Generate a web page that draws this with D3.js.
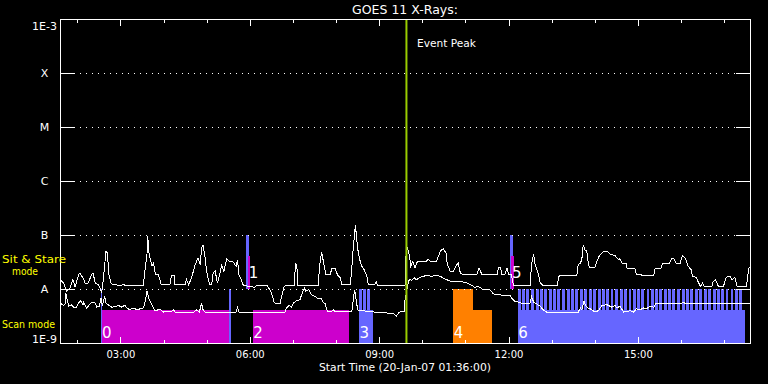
<!DOCTYPE html>
<html><head><meta charset="utf-8">
<script src="https://cdn.jsdelivr.net/npm/d3@7"></script>
<style>
body{margin:0;background:#000;}
text{font-family:"DejaVu Sans",sans-serif;fill:#fff;}
</style>
</head><body>
<svg id="chart" width="768" height="384"></svg>
<script>
// ---------- data ----------
const chartTitle = "GOES 11 X-Rays:";
const xAxisTitle = "Start Time (20-Jan-07 01:36:00)";
const timeStart = "01:36";
const timeEnd = "17:36";
const yTickValues = [1e-3, 1e-4, 1e-5, 1e-6, 1e-7, 1e-8, 1e-9];
const yTickLabels = ["1E-3", "X", "M", "C", "B", "A", "1E-9"];
const gridValues = [1e-4, 1e-5, 1e-6, 1e-7, 1e-8];
const eventPeak = "09:38";
const eventLabel = "Event Peak";
const modeLabels = ["Sit & Stare", "mode", "Scan mode"];

// GOES 11 1-8 A (upper) channel  [time, flux W/m^2]
const longChannel = [["01:36",1.49e-8],["01:41",1.29e-8],["01:45",9.2e-9],["01:50",1.04e-8],["01:54",1.49e-8],["01:57",1.10e-8],["02:02",1.84e-8],["02:04",1.98e-8],["02:06",1.74e-8],["02:08",1.60e-8],["02:11",1.29e-8],["02:15",1.29e-8],["02:20",1.84e-8],["02:22",1.98e-8],["02:25",1.29e-8],["02:29",1.20e-8],["02:32",1.04e-8],["02:34",8.4e-9],["02:36",1.39e-8],["02:40",4.99e-8],["02:42",4.64e-8],["02:44",1.84e-8],["02:47",1.29e-8],["02:50",1.20e-8],["03:02",1.17e-8],["03:04",1.24e-8],["03:06",1.17e-8],["03:32",1.17e-8],["03:34",2.13e-8],["03:37",4.32e-8],["03:38",9.46e-8],["03:40",4.32e-8],["03:44",2.63e-8],["03:46",3.03e-8],["03:49",1.84e-8],["03:53",1.84e-8],["03:57",1.20e-8],["04:09",1.20e-8],["04:11",1.79e-8],["04:15",1.79e-8],["04:16",1.20e-8],["04:30",1.20e-8],["04:32",1.49e-8],["04:35",1.20e-8],["04:39",1.60e-8],["04:44",2.82e-8],["04:48",3.75e-8],["04:51",2.82e-8],["04:53",5.74e-8],["04:55",6.44e-8],["04:58",3.75e-8],["05:00",2.13e-8],["05:04",1.20e-8],["05:07",1.20e-8],["05:09",1.98e-8],["05:12",2.13e-8],["05:15",1.29e-8],["05:18",1.84e-8],["05:21",2.75e-8],["05:24",2.13e-8],["05:28",3.64e-8],["05:32",3.26e-8],["05:37",3.16e-8],["05:41",2.63e-8],["05:43",3.49e-8],["05:45",1.84e-8],["05:49",1.39e-8],["05:51",1.17e-8],["06:07",1.07e-8],["06:10",1.17e-8],["06:24",1.17e-8],["06:28",9.7e-9],["06:31",7.8e-9],["06:34",5.7e-9],["06:37",5.3e-9],["06:42",5.3e-9],["06:45",7.8e-9],["06:48",1.12e-8],["06:51",1.17e-8],["07:02",1.17e-8],["07:03",2.13e-8],["07:04",3.03e-8],["07:06",2.28e-8],["07:07",1.17e-8],["07:35",1.17e-8],["07:38",3.26e-8],["07:40",4.84e-8],["07:42",3.49e-8],["07:46",1.84e-8],["07:52",1.84e-8],["07:54",2.38e-8],["07:59",2.38e-8],["08:02",1.84e-8],["08:06",1.6e-8],["08:08",1.20e-8],["08:20",1.20e-8],["08:22",2.45e-8],["08:24",5.74e-8],["08:27",1.53e-7],["08:30",5.74e-8],["08:33",3.49e-8],["08:36",2.63e-8],["08:39",2.28e-8],["08:43",1.72e-8],["08:45",1.20e-8],["08:54",1.20e-8],["08:56",1.35e-8],["08:58",1.17e-8],["09:36",1.17e-8],["09:38",6.61e-8],["09:42",4.32e-8],["09:44",2.63e-8],["09:47",3.26e-8],["09:50",2.45e-8],["09:53",3.16e-8],["10:06",3.26e-8],["10:08",3.64e-8],["10:11",3.26e-8],["10:20",3.26e-8],["10:25",4.99e-8],["10:29",5.57e-8],["10:33",4.64e-8],["10:35",2.82e-8],["10:39",2.13e-8],["10:43",2.13e-8],["10:48",2.82e-8],["10:50",3.03e-8],["10:53",1.98e-8],["10:57",1.84e-8],["11:16",1.84e-8],["11:19",2.45e-8],["11:23",1.84e-8],["11:44",1.84e-8],["11:46",2.45e-8],["11:49",2.45e-8],["11:51",1.84e-8],["11:55",1.84e-8],["11:58",2.45e-8],["12:00",1.84e-8],["12:04",1.84e-8],["12:07",1.17e-8],["12:30",1.17e-8],["12:32",2.82e-8],["12:35",4.45e-8],["12:37",2.82e-8],["12:42",1.84e-8],["12:44",1.29e-8],["12:48",1.17e-8],["13:08",1.17e-8],["13:10",1.72e-8],["13:13",1.79e-8],["13:35",1.79e-8],["13:37",2.82e-8],["13:40",3.03e-8],["13:42",3.49e-8],["13:44",6.61e-8],["13:46",5.35e-8],["13:49",4.99e-8],["13:51",3.03e-8],["13:53",2.45e-8],["14:00",2.45e-8],["14:03",3.26e-8],["14:06",4.04e-8],["14:12",4.99e-8],["14:19",4.84e-8],["14:22",4.32e-8],["14:28",4.21e-8],["14:31",3.75e-8],["14:34",3.49e-8],["14:35",3.64e-8],["14:38",3.03e-8],["14:44",3.03e-8],["14:45",2.38e-8],["14:56",2.38e-8],["14:58",1.84e-8],["15:22",1.76e-8],["15:24",2.38e-8],["15:32",2.45e-8],["15:35",3.03e-8],["15:44",3.03e-8],["15:47",3.64e-8],["15:50",3.64e-8],["15:53",3.03e-8],["15:59",3.03e-8],["16:02",4.21e-8],["16:06",3.75e-8],["16:10",2.63e-8],["16:14",2.28e-8],["16:16",1.72e-8],["16:21",1.65e-8],["16:24",1.35e-8],["16:27",1.12e-8],["16:30",1.29e-8],["16:32",1.12e-8],["16:43",1.12e-8],["16:45",1.39e-8],["16:48",1.49e-8],["16:52",1.12e-8],["16:59",1.12e-8],["17:03",1.65e-8],["17:08",1.72e-8],["17:11",1.49e-8],["17:15",1.65e-8],["17:18",1.12e-8],["17:31",1.12e-8],["17:34",2.28e-8],["17:35",2.52e-8]];

// GOES 11 0.5-4 A (lower) channel  [time, flux W/m^2]
const shortChannel = [["01:36",5.5e-9],["01:41",5.0e-9],["01:43",5.3e-9],["01:44",8.4e-9],["01:48",4.8e-9],["01:52",5.1e-9],["01:56",4.45e-9],["01:59",4.6e-9],["02:02",5.5e-9],["02:05",6.1e-9],["02:08",5.0e-9],["02:09",5.7e-9],["02:13",4.45e-9],["02:18",5.3e-9],["02:21",5.7e-9],["02:25",5.5e-9],["02:27",4.6e-9],["02:31",4.8e-9],["02:33",6.8e-9],["02:35",4.8e-9],["02:38",7.3e-9],["02:40",5.5e-9],["02:43",5.1e-9],["02:48",4.6e-9],["02:53",4.7e-9],["02:57",5.0e-9],["03:02",4.6e-9],["03:06",5.0e-9],["03:09",4.45e-9],["03:13",4.14e-9],["03:18",4.45e-9],["03:23",4.14e-9],["03:32",4.45e-9],["03:35",6.3e-9],["03:37",9.3e-9],["03:40",6.3e-9],["03:44",5.1e-9],["03:48",3.96e-9],["03:55",4.2e-9],["04:00",3.75e-9],["04:11",3.86e-9],["04:14",4.14e-9],["04:16",3.75e-9],["04:42",3.75e-9],["04:46",4.08e-9],["04:50",3.75e-9],["04:53",5.5e-9],["04:55",4.14e-9],["04:58",3.75e-9],["05:41",3.75e-9],["05:43",4.6e-9],["05:45",3.75e-9],["06:07",3.75e-9],["06:10",3.6e-9],["06:49",3.75e-9],["06:51",4.45e-9],["06:55",5.0e-9],["06:58",4.6e-9],["07:01",5.5e-9],["07:03",5.7e-9],["07:05",6.1e-9],["07:10",6.3e-9],["07:12",7.8e-9],["07:16",1.04e-8],["07:18",9.1e-9],["07:22",9.7e-9],["07:26",7.8e-9],["07:31",7.3e-9],["07:35",6.6e-9],["07:39",6.8e-9],["07:42",5.7e-9],["07:45",5.3e-9],["07:48",3.86e-9],["07:54",3.86e-9],["07:56",4.14e-9],["07:59",3.75e-9],["08:22",3.86e-9],["08:24",6.3e-9],["08:26",9.7e-9],["08:29",5.1e-9],["08:31",3.96e-9],["08:52",3.86e-9],["08:54",3.6e-9],["09:11",3.6e-9],["09:15",3.44e-9],["09:20",3.55e-9],["09:24",3.12e-9],["09:27",3.6e-9],["09:31",3.86e-9],["09:35",3.86e-9],["09:36",6.3e-9],["09:41",1.39e-8],["09:43",1.55e-8],["09:45",1.43e-8],["09:49",1.60e-8],["09:52",1.49e-8],["09:57",1.65e-8],["10:02",1.72e-8],["10:06",1.79e-8],["10:13",1.72e-8],["10:20",1.79e-8],["10:25",1.72e-8],["10:29",1.60e-8],["10:34",1.49e-8],["10:39",1.39e-8],["10:53",1.39e-8],["11:02",1.29e-8],["11:09",1.17e-8],["11:13",1.07e-8],["11:18",1.12e-8],["11:20",1.07e-8],["11:25",9.7e-9],["11:34",9.7e-9],["11:39",8.1e-9],["11:44",7.8e-9],["12:02",7.6e-9],["12:04",6.8e-9],["12:09",5.9e-9],["12:14",5.7e-9],["12:18",5.5e-9],["12:30",5.5e-9],["12:32",7.3e-9],["12:35",5.7e-9],["12:39",5.3e-9],["12:44",4.8e-9],["12:48",4.14e-9],["12:53",3.75e-9],["13:37",3.75e-9],["13:40",4.45e-9],["13:42",4.14e-9],["13:45",5.9e-9],["13:48",4.8e-9],["13:51",4.45e-9],["13:56",4.14e-9],["14:00",3.75e-9],["14:05",3.96e-9],["14:10",5.0e-9],["14:17",5.1e-9],["14:24",4.6e-9],["14:28",5.0e-9],["14:31",4.45e-9],["14:35",4.8e-9],["14:40",3.75e-9],["14:45",3.86e-9],["14:49",3.96e-9],["14:54",3.75e-9],["14:58",4.3e-9],["15:03",4.14e-9],["15:08",4.45e-9],["15:12",4.3e-9],["15:17",4.8e-9],["15:22",4.6e-9],["15:25",5.3e-9],["15:28",5.4e-9],["16:01",5.4e-9],["16:03",5.7e-9],["16:06",5.4e-9],["17:36",5.4e-9]];

// observing blocks: [start, end, study type, level]
const scanBlocks = [
  ["02:33:50","05:32","A","part"],
  ["06:04","08:18","A","part"],
  ["08:32","08:52","B","part"],
  ["10:43","11:10","C","full"],
  ["11:10","11:37","C","part"],
  ["12:13","17:29","B","part"]
];
// individual scan exposures (full height): [start, end, study type]
const scanExposures = [
  ["02:32:30","02:33:50","B"],["05:31","05:33:30","B"],
  ["08:32","08:36","B"],["08:37:30","08:41:30","B"],["08:43:30","08:47:30","B"]
];
const rasterStarts = ["12:13","12:19","12:25","12:31","12:38","12:44","12:50","12:56","13:02","13:08","13:15","13:21","13:27","13:33","13:39","13:45","13:52","13:58","14:04","14:10","14:16","14:22","14:28","14:35","14:41","14:47","14:53","14:59","15:05","15:12","15:18","15:24","15:30","15:36","15:42","15:48","15:55","16:01","16:07","16:13","16:19","16:25","16:32","16:38","16:44","16:50","16:56","17:02","17:09","17:15","17:21"];
const rasterMinutes = 4;
const stareBlocks = [
  ["05:55","05:59","B","full"],
  ["05:58","06:00","A","part"],
  ["12:02","12:06","B","full"],
  ["12:04","12:07","A","part"]
];
// study labels: [text, time, mode]
const studyLabels = [["0","02:33:50","scan"],["1","05:58","stare"],["2","06:04","scan"],["3","08:32","scan"],["4","10:43","scan"],["5","12:04","stare"],["6","12:13","scan"]];

// ---------- helpers ----------
function T(s){ const p=s.split(":").map(Number); return new Date(Date.UTC(2007,0,20,p[0],p[1],p[2]||0)); }

const svg = d3.select("#chart");
const L=60, R=750, TOP=19, BOT=343;
const x = d3.scaleUtc().domain([T(timeStart),T(timeEnd)]).range([L,R]);
const y = d3.scaleLog().domain([1e-9,1e-3]).range([BOT,TOP]);
const studyColor = d3.scaleOrdinal().domain(["A","B","C"]).range(["#cc00cc","#6666ff","#ff8000"]);
const partFrac = 0.61;
const bands = {
  scan: [1e-9, 1e-8],
  stare: [1e-8, 1e-7]
};
function bandTop(mode, level){
  const [lo,hi] = bands[mode];
  const yl = y(lo), yh = y(hi);
  return level==="full" ? yh : yl - (yl-yh)*partFrac;
}

const gBars = svg.append("g").attr("shape-rendering","crispEdges");
function drawBlock(d, mode){
  const x0 = x(T(d[0])), x1 = x(T(d[1]));
  const yt = bandTop(mode, d[3]);
  gBars.append("rect").attr("x",x0).attr("width",Math.max(1,x1-x0))
    .attr("y",yt).attr("height",y(bands[mode][0])-yt).attr("fill",studyColor(d[2]));
}
scanBlocks.forEach(d=>drawBlock(d,"scan"));
scanExposures.forEach(d=>drawBlock([d[0],d[1],d[2],"full"],"scan"));
rasterStarts.forEach(s=>{
  const e = new Date(T(s).getTime()+rasterMinutes*60000);
  const x0=x(T(s)), x1=x(e);
  gBars.append("rect").attr("x",x0).attr("width",x1-x0)
    .attr("y",y(1e-8)).attr("height",y(1e-9)-y(1e-8)).attr("fill",studyColor("B"));
});
stareBlocks.forEach(d=>drawBlock(d,"stare"));

// study labels
svg.append("g").selectAll("text").data(studyLabels).join("text")
  .attr("x",d=>x(T(d[1]))+0.5)
  .attr("y",d=>d[2]==="scan"?338:277.5)
  .attr("font-family","Liberation Sans, Arimo, sans-serif")
  .attr("font-size",15)
  .text(d=>d[0]);

// grid lines (dotted) with solid ticks at both ends
const tickLen = 14;
const gGrid = svg.append("g").attr("shape-rendering","crispEdges");
gGrid.selectAll("line").data(gridValues).join("line")
  .attr("x1",L+tickLen).attr("x2",R-tickLen)
  .attr("y1",d=>Math.round(y(d))+0.5).attr("y2",d=>Math.round(y(d))+0.5)
  .attr("stroke","#fff").attr("stroke-dasharray","1,5");

// left axis
const yAxisL = d3.axisLeft(y).tickValues(yTickValues)
  .tickFormat((d,i)=>yTickLabels[i]).tickSizeInner(-tickLen).tickSizeOuter(0).tickPadding(0);
const gL = svg.append("g").attr("transform",`translate(${L},0)`).call(yAxisL);
gL.select(".domain").remove();
gL.selectAll("line").attr("stroke","#fff").attr("shape-rendering","crispEdges");
gL.selectAll("text").attr("fill","#fff").attr("font-size",11).attr("font-family","DejaVu Sans")
  .attr("text-anchor","middle").attr("x",-15.5)
  .attr("dy",(d,i)=> i===0 ? "0.95em" : (i===yTickValues.length-1 ? "-0.05em" : "0.36em"));
// right axis ticks
const yAxisR = d3.axisRight(y).tickValues(yTickValues).tickFormat("").tickSizeInner(-tickLen).tickSizeOuter(0);
const gR = svg.append("g").attr("transform",`translate(${R},0)`).call(yAxisR);
gR.select(".domain").remove();
gR.selectAll("line").attr("stroke","#fff").attr("shape-rendering","crispEdges");

// x axes
const majorTicks = d3.utcHour.every(3);
const minorTicks = d3.utcHour.every(1);
const xb = d3.axisBottom(x).ticks(majorTicks).tickFormat(d3.utcFormat("%H:%M")).tickSizeInner(-6.5).tickSizeOuter(0).tickPadding(8);
const gXB = svg.append("g").attr("transform",`translate(0,${BOT})`).call(xb);
gXB.select(".domain").remove();
gXB.selectAll("line").attr("stroke","#fff").attr("shape-rendering","crispEdges");
gXB.selectAll("text").attr("fill","#fff").attr("font-size",10).attr("font-family","DejaVu Sans");
const xbm = d3.axisBottom(x).ticks(minorTicks).tickFormat("").tickSizeInner(-3.5).tickSizeOuter(0);
const gXBm = svg.append("g").attr("transform",`translate(0,${BOT})`).call(xbm);
gXBm.select(".domain").remove();
gXBm.selectAll("line").attr("stroke","#fff").attr("shape-rendering","crispEdges");
const xt = d3.axisTop(x).ticks(majorTicks).tickFormat("").tickSizeInner(-6.5).tickSizeOuter(0);
const gXT = svg.append("g").attr("transform",`translate(0,${TOP})`).call(xt);
gXT.select(".domain").remove();
gXT.selectAll("line").attr("stroke","#fff").attr("shape-rendering","crispEdges");
const xtm = d3.axisTop(x).ticks(minorTicks).tickFormat("").tickSizeInner(-3.5).tickSizeOuter(0);
const gXTm = svg.append("g").attr("transform",`translate(0,${TOP})`).call(xtm);
gXTm.select(".domain").remove();
gXTm.selectAll("line").attr("stroke","#fff").attr("shape-rendering","crispEdges");

// flux curves
const line = d3.line().x(d=>x(T(d[0]))).y(d=>y(d[1]));
const gLines = svg.append("g").attr("shape-rendering","crispEdges");
[longChannel, shortChannel].forEach(s=>{
  gLines.append("path").attr("d",line(s)).attr("fill","none").attr("stroke","#fff").attr("stroke-width",1);
});

// event peak line
svg.append("line").attr("x1",x(T(eventPeak))).attr("x2",x(T(eventPeak)))
  .attr("y1",TOP).attr("y2",BOT).attr("stroke","#99cc00").attr("stroke-width",2);
svg.append("text").attr("x",x(T(eventPeak))+10.5).attr("y",47).attr("font-size",11)
  .attr("textLength",59).attr("lengthAdjust","spacingAndGlyphs").text(eventLabel);

// plot frame
svg.append("rect").attr("x",L+0.5).attr("y",TOP+0.5).attr("width",R-L).attr("height",BOT-TOP)
  .attr("fill","none").attr("stroke","#fff").attr("shape-rendering","crispEdges");

// titles
svg.append("text").attr("x",(L+R)/2).attr("y",14).attr("text-anchor","middle").attr("font-size",12)
  .attr("textLength",106).attr("lengthAdjust","spacingAndGlyphs").text(chartTitle);
svg.append("text").attr("x",(L+R)/2).attr("y",371).attr("text-anchor","middle").attr("font-size",10)
  .attr("textLength",172).attr("lengthAdjust","spacingAndGlyphs").text(xAxisTitle);

// mode labels (yellow)
const gMode = svg.append("g").style("fill","#ffff00").attr("font-size",11);
gMode.append("text").attr("x",2).attr("y",263).style("fill","#ffff00")
  .attr("textLength",64).attr("lengthAdjust","spacingAndGlyphs").text(modeLabels[0]);
gMode.append("text").attr("x",12).attr("y",275).style("fill","#ffff00")
  .attr("textLength",26).attr("lengthAdjust","spacingAndGlyphs").text(modeLabels[1]);
gMode.append("text").attr("x",2).attr("y",328).style("fill","#ffff00")
  .attr("textLength",53).attr("lengthAdjust","spacingAndGlyphs").text(modeLabels[2]);
</script>
</body></html>
